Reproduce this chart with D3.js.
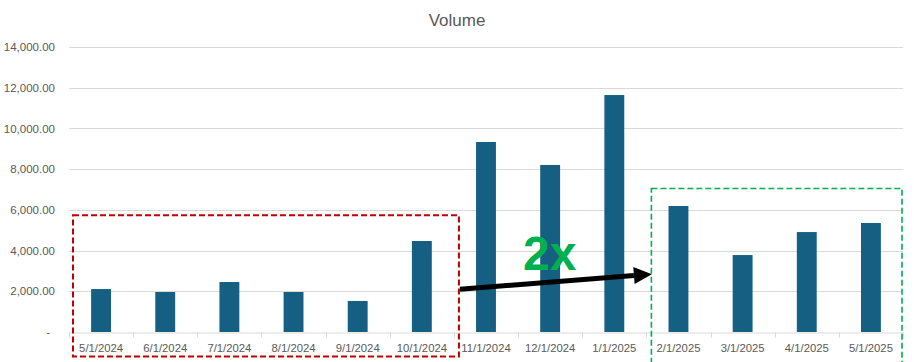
<!DOCTYPE html>
<html>
<head>
<meta charset="utf-8">
<script src="https://cdn.jsdelivr.net/npm/d3@7"></script>
<style>
  html, body { margin: 0; padding: 0; background: #ffffff; }
  svg { display: block; font-family: "Liberation Sans", Arial, sans-serif; }
</style>
</head>
<body>
<svg id="chart" width="914" height="362"></svg>
<script>
// Monthly volume
const months = ["5/1/2024", "6/1/2024", "7/1/2024", "8/1/2024", "9/1/2024", "10/1/2024",
                "11/1/2024", "12/1/2024", "1/1/2025", "2/1/2025", "3/1/2025", "4/1/2025", "5/1/2025"];
const volume = [2110, 1965, 2455, 1965, 1525, 4470, 9335, 8205, 11640, 6190, 3780, 4910, 5355];
const yTicks = [0, 2000, 4000, 6000, 8000, 10000, 12000, 14000];

// Highlighted periods and the growth callout
const beforeGroup = ["5/1/2024", "10/1/2024"];
const afterGroup = ["2/1/2025", "5/1/2025"];
const growthLabel = "2x";

const svg = d3.select("#chart");
const plotLeft = 69, plotRight = 903, plotTop = 47, plotBottom = 332;

const x = d3.scaleBand().domain(months).range([plotLeft, plotRight]).padding(0);
const y = d3.scaleLinear().domain([0, 14000]).range([plotBottom, plotTop]);

const grey = "#595959";
const gridColor = "#D9D9D9";

// Title
svg.append("text")
  .attr("x", 457)
  .attr("y", 26)
  .attr("text-anchor", "middle")
  .attr("font-size", 17)
  .attr("fill", grey)
  .text("Volume");

// Horizontal gridlines
svg.append("g")
  .selectAll("line")
  .data(yTicks.filter(d => d > 0))
  .join("line")
  .attr("x1", plotLeft).attr("x2", plotRight)
  .attr("y1", d => Math.round(y(d)) + 0.5)
  .attr("y2", d => Math.round(y(d)) + 0.5)
  .attr("stroke", gridColor)
  .attr("stroke-width", 1);

// Y axis labels (accounting style, zero shown as a dash)
const fmt = d3.format(",.2f");
const yAxis = d3.axisLeft(y)
  .tickValues(yTicks)
  .tickSize(0)
  .tickPadding(14)
  .tickFormat(d => d === 0 ? "-" : fmt(d));
const gy = svg.append("g")
  .attr("transform", `translate(${plotLeft},0)`)
  .call(yAxis);
gy.select(".domain").remove();
gy.selectAll("text")
  .attr("font-size", 11.5)
  .attr("fill", grey)
  .attr("font-family", "Liberation Sans, Arial, sans-serif")
  .attr("dx", d => d === 0 ? -5 : 0);

// Bars
const barW = x.bandwidth() * 0.31;
svg.append("g")
  .selectAll("rect")
  .data(months.map((m, i) => ({ m, v: volume[i] })))
  .join("rect")
  .attr("x", d => x(d.m) + (x.bandwidth() - barW) / 2)
  .attr("y", d => y(d.v))
  .attr("width", barW)
  .attr("height", d => y(0) - y(d.v))
  .attr("fill", "#156082");

// X axis with category boundary ticks
const xAxis = d3.axisBottom(x).tickSize(0).tickPadding(11);
const gx = svg.append("g")
  .attr("transform", `translate(0,${Math.round(y(0)) + 0.5})`)
  .call(xAxis);
gx.select(".domain").attr("stroke", gridColor);
gx.selectAll("text")
  .attr("font-size", 11.3)
  .attr("fill", grey)
  .attr("font-family", "Liberation Sans, Arial, sans-serif");
gx.append("g")
  .selectAll("line")
  .data(months.map(m => x(m)).concat([plotRight]))
  .join("line")
  .attr("x1", d => Math.round(d) + 0.5).attr("x2", d => Math.round(d) + 0.5)
  .attr("y1", 0).attr("y2", 5)
  .attr("stroke", gridColor);

// Dashed boxes around the compared periods
function groupBox(range, color, width, yTopValue, yBottomPx, padL, padR) {
  const x0 = x(range[0]) + padL;
  const x1 = x(range[1]) + x.bandwidth() + padR;
  svg.append("rect")
    .attr("x", x0).attr("y", y(yTopValue))
    .attr("width", x1 - x0)
    .attr("height", yBottomPx - y(yTopValue))
    .attr("fill", "none")
    .attr("stroke", color)
    .attr("stroke-width", width)
    .attr("stroke-dasharray", "6,3");
}
groupBox(beforeGroup, "#C00000", 2, 5730, 356.5, 4, 5);
groupBox(afterGroup, "#00B050", 1.6, 7050, 372, 5, -1);

// Growth arrow between the two periods
const ax0 = x(beforeGroup[1]) + x.bandwidth() + 6;
const ax1 = x(afterGroup[0]) + 5.5;
const ay0 = y(2100), ay1 = y(2840);
const ang = Math.atan2(ay1 - ay0, ax1 - ax0);
const headLen = 18, headHalf = 8.5;
const bx = ax1 - headLen * Math.cos(ang), by = ay1 - headLen * Math.sin(ang);
svg.append("line")
  .attr("x1", ax0).attr("y1", ay0)
  .attr("x2", bx).attr("y2", by)
  .attr("stroke", "#000")
  .attr("stroke-width", 5);
svg.append("path")
  .attr("d", `M${ax1},${ay1}` +
    `L${bx - headHalf * Math.sin(ang)},${by + headHalf * Math.cos(ang)}` +
    `L${bx + headHalf * Math.sin(ang)},${by - headHalf * Math.cos(ang)}Z`)
  .attr("fill", "#000");

svg.append("text")
  .attr("x", 523)
  .attr("y", 270)
  .attr("font-size", 48)
  .attr("font-weight", "bold")
  .attr("fill", "#00B050")
  .text(growthLabel);
</script>
</body>
</html>
